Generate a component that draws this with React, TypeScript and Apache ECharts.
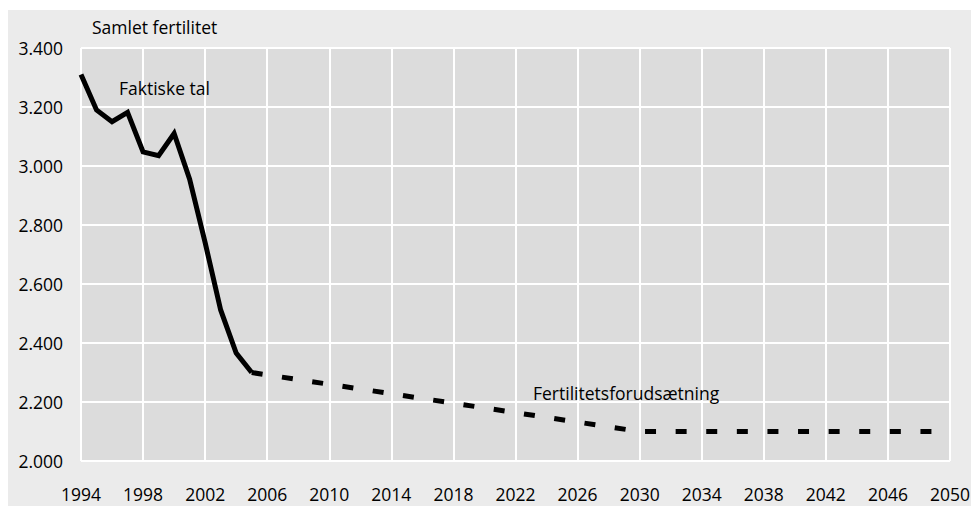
import React, { useEffect, useRef } from "react";
import * as echarts from "echarts";

const years: string[] = [];
for (let y = 1994; y <= 2050; y++) years.push(String(y));

const actualYears = ["1994", "1995", "1996", "1997", "1998", "1999", "2000", "2001", "2002", "2003", "2004", "2005"];
const actualValues = [3310, 3190, 3150, 3182, 3048, 3035, 3110, 2955, 2740, 2512, 2366, 2300];

const projYears = ["2005", "2030", "2049"];
const projValues = [2300, 2100, 2100];

const yTicks = { min: 2000, max: 3400, interval: 200 };

const FONT = "'Open Sans', sans-serif";
const FS = 17.5;

export default function App() {
  const ref = useRef<HTMLDivElement>(null);
  useEffect(() => {
    if (!ref.current) return;
    const chart = echarts.init(ref.current, undefined, { renderer: "svg" });
    chart.setOption({
      animation: false,
      backgroundColor: "#ebebeb",
      textStyle: { fontFamily: FONT },
      grid: {
        left: 73,
        top: 38,
        right: 29,
        bottom: 45,
        show: true,
        backgroundColor: "#dcdcdc",
        borderWidth: 0,
        containLabel: false,
      },
      xAxis: {
        type: "category",
        data: years,
        boundaryGap: false,
        axisLine: { show: false },
        axisTick: { show: false },
        axisLabel: {
          interval: 3,
          margin: 24,
          fontSize: FS,
          color: "#000",
          fontFamily: FONT,
        },
        splitLine: {
          show: true,
          interval: 3,
          lineStyle: { color: "#ffffff", width: 2 },
        },
      },
      yAxis: {
        type: "value",
        min: yTicks.min,
        max: yTicks.max,
        interval: yTicks.interval,
        axisLine: { show: false },
        axisTick: { show: false },
        axisLabel: {
          margin: 18,
          fontSize: FS,
          color: "#000",
          fontFamily: FONT,
          formatter: (v: number) => {
            const s = String(Math.round(v));
            return s.slice(0, s.length - 3) + "." + s.slice(s.length - 3);
          },
        },
        splitLine: { show: true, lineStyle: { color: "#ffffff", width: 2 } },
      },
      series: [
        {
          type: "line",
          data: projYears.map((y, i) => [y, projValues[i]]),
          symbol: "none",
          lineStyle: { color: "#000", width: 5, type: [11, 19.6], cap: "butt" },
          z: 2,
        },
        {
          type: "line",
          data: actualYears.map((y, i) => [y, actualValues[i]]),
          symbol: "none",
          lineStyle: { color: "#000", width: 5, join: "miter" },
          z: 3,
        },
      ],
      graphic: [
        {
          type: "text",
          left: 84,
          top: 8,
          z: 100,
          style: { text: "Samlet fertilitet", fontSize: FS, fill: "#000", fontFamily: FONT },
        },
        {
          type: "text",
          left: 111,
          top: 69,
          z: 100,
          style: { text: "Faktiske tal", fontSize: FS, fill: "#000", fontFamily: FONT },
        },
        {
          type: "text",
          left: 525,
          top: 374,
          z: 100,
          style: { text: "Fertilitetsforudsætning", fontSize: FS, fill: "#000", fontFamily: FONT },
        },
      ],
    });
    return () => chart.dispose();
  }, []);
  return <div ref={ref} style={{ width: 971, height: 496, marginTop: 2 }} />;
}
